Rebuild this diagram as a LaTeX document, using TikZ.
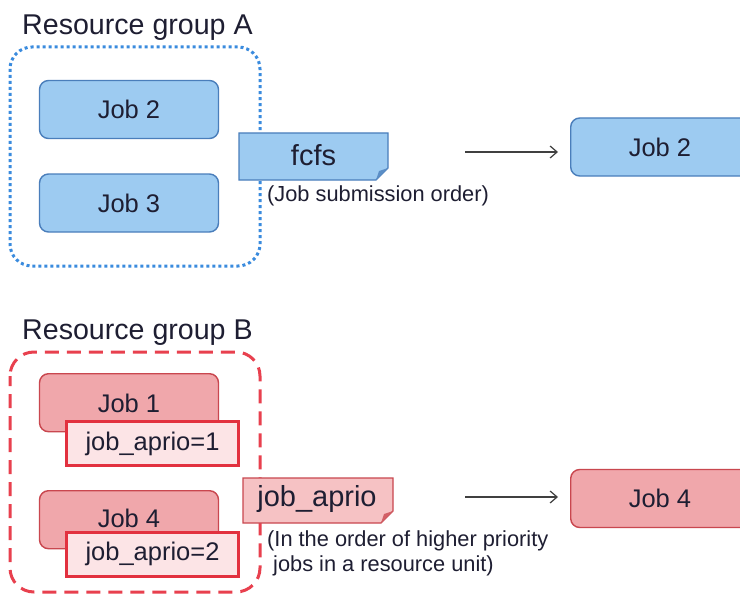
\documentclass[tikz,border=0pt]{standalone}
\usepackage{fontspec}
\setmainfont{Liberation Sans}
\usetikzlibrary{arrows.meta}
\definecolor{blfill}{HTML}{9DCBF1}
\definecolor{bldraw}{HTML}{4A7EBB}
\definecolor{bldot}{HTML}{3A8BDE}
\definecolor{rdfill}{HTML}{F0A7AB}
\definecolor{rddraw}{HTML}{C9474F}
\definecolor{rddash}{HTML}{E8404E}
\definecolor{apfill}{HTML}{FCE4E6}
\definecolor{apdraw}{HTML}{E2313F}
\definecolor{notefill}{HTML}{F6C2C4}
\definecolor{txt}{HTML}{1E1E32}
\definecolor{arr}{HTML}{404040}
\tikzset{
  fs/.style={font=\fontsize{#1}{#1}\selectfont},
  jobblue/.style={draw=bldraw, fill=blfill, line width=1.4pt, rounded corners=9pt,
    minimum width=179pt, minimum height=58pt, text=txt, fs=25.5, inner sep=0pt},
  jobred/.style={draw=rddraw, fill=rdfill, line width=1.4pt, rounded corners=9pt,
    minimum width=179pt, minimum height=58pt, text=txt, fs=25.5, inner sep=0pt},
  aprio/.style={draw=apdraw, fill=apfill, line width=3pt, minimum width=172pt,
    minimum height=44pt, text=txt, fs=25.5, inner sep=0pt},
  jobtxt/.style={text=txt, fs=25.5, inner sep=0pt},
  notetxt/.style={text=txt, fs=29, inner sep=0pt},
  small/.style={text=txt, fs=21.8, inner sep=0pt, anchor=west, align=left},
  title/.style={text=txt, fs=28.6, inner sep=0pt, anchor=base west},
  flow/.style={draw=arr, line width=1.2pt, -{Straight Barb[length=7pt,width=12pt,line width=1.2pt]}},
}
\begin{document}
\begin{tikzpicture}[x=1pt,y=-1pt]
\useasboundingbox (0,0) rectangle (740,594);
\clip (0,0) rectangle (740,594);
\fill[white] (0,0) rectangle (740,594);

% ---- Group A ----
\node[title] (tA) at (22,35) {Resource group A};
\draw[bldot, line width=3pt, dash pattern=on 3pt off 3pt, rounded corners=22pt]
  (10,47) rectangle (260,266);
\node[jobblue] (j2) at (129,109.5) {Job 2};
\node[jobblue] (j3) at (129,203) {Job 3};

% fcfs note
\fill[blfill, draw=bldraw, line width=1.2pt]
  (239,133) -- (388,133) -- (388,168) -- (376,180) -- (239,180) -- cycle;
\fill[bldraw!80!blfill] (388,168) -- (376,180) -- (379,171) -- cycle;
\node[notetxt] (fcfs) at (313.5,155) {fcfs};
\node[small] (fcfsT) at (267,196) {(Job submission order)};

\coordinate (a1) at (465,152);
\coordinate (b1) at (558,152);
\node[jobblue, minimum width=182pt, anchor=west] (j2r) at (570,147) {};
\node[jobtxt] (j2rt) at (660,147) {Job 2};
\draw[flow] (a1) -- (b1);

% ---- Group B ----
\node[title] (tB) at (22,339) {Resource group B};
\draw[rddash, line width=3pt, dash pattern=on 14pt off 8pt, dash phase=4pt, rounded corners=24pt]
  (10,352) rectangle (260,592);
\node[jobred, anchor=north] (j1) at (129,373) {};
\node[jobtxt] (j1t) at (129,403) {Job 1};
\node[aprio] (ap1) at (152.5,443.5) {job\_aprio=1};
\node[jobred, anchor=north] (j4) at (129,490) {};
\node[jobtxt] (j4t) at (129,518) {Job 4};
\node[aprio] (ap2) at (152.5,554) {job\_aprio=2};

% job_aprio note
\fill[notefill, draw=rddraw, line width=1.2pt]
  (243,478) -- (393,478) -- (393,511) -- (381,523) -- (243,523) -- cycle;
\fill[rddraw!80!notefill] (393,511) -- (381,523) -- (384,514) -- cycle;
\node[notetxt] (apn) at (317,499) {job\_aprio};
\node[small] (apT1) at (267,541) {(In the order of higher priority};
\node[small] (apT2) at (273,566) {jobs in a resource unit)};

\coordinate (a2) at (465,497);
\coordinate (b2) at (558,497);
\node[jobred, minimum width=182pt, anchor=west] (j4r) at (570,498.5) {};
\node[jobtxt] (j4rt) at (660,498.5) {Job 4};
\draw[flow] (a2) -- (b2);
\end{tikzpicture}
\end{document}
